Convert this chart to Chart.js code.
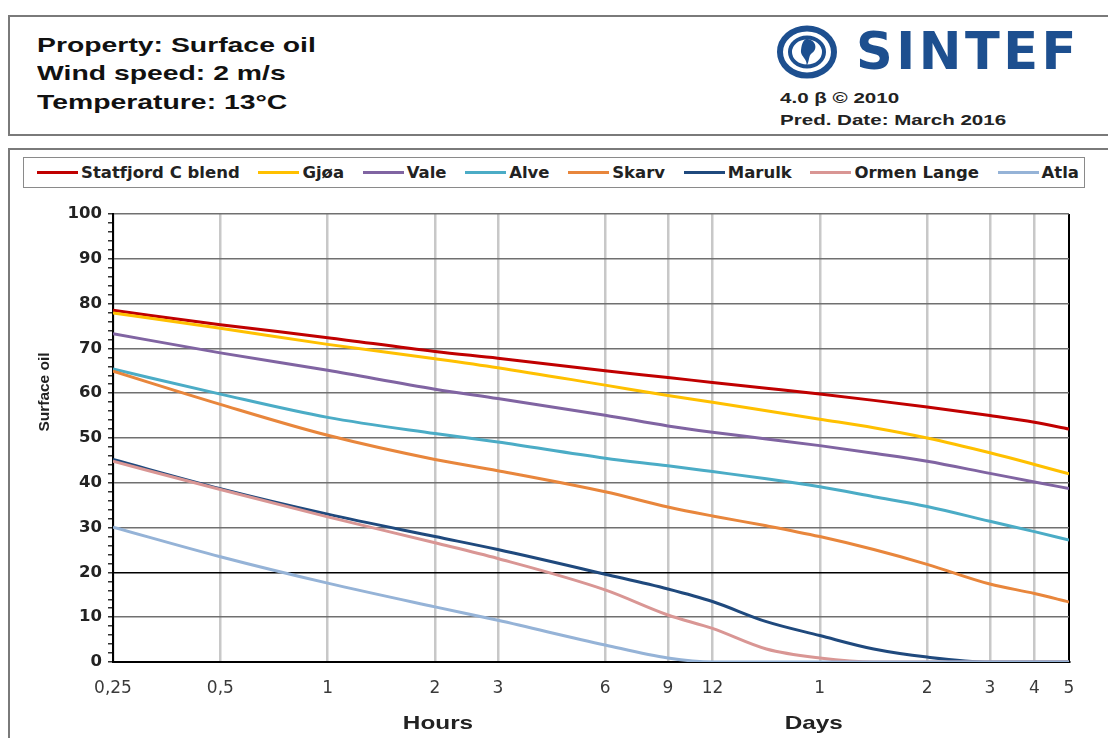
<!DOCTYPE html>
<html>
<head>
<meta charset="utf-8">
<script src="https://cdn.jsdelivr.net/npm/chart.js@4.4.0/dist/chart.umd.min.js"></script>
<style>
    body { margin: 0; background: #fff; font-family: "Liberation Sans", Arial, sans-serif; }
    #page { position: relative; width: 1108px; height: 738px; overflow: hidden; }
    .box { position: absolute; border: 2px solid #7a7a7a; box-sizing: border-box; }
    #head { left: 8px; top: 15px; width: 1120px; height: 121px; }
    #body { left: 8px; top: 148px; width: 1120px; height: 620px; }
    .info { position: absolute; left: 37px; font-weight: bold; font-size: 21px; color: #111;
        transform: scaleX(1.35); transform-origin: left center; white-space: nowrap; }
    .small { position: absolute; left: 780px; font-weight: bold; font-size: 15px; color: #222;
        transform: scaleX(1.37); transform-origin: left center; white-space: nowrap; }
    #logo { position: absolute; left: 776px; top: 25px; }
    #logoText { position: absolute; left: 856px; top: 22px; font-family: "DejaVu Sans"; font-weight: bold;
        font-size: 51px; color: #1d4f8f; letter-spacing: 3.5px; }
    #legend { position: absolute; left: 23px; top: 157px; width: 1062px; height: 31px; border: 1px solid #8a8a8a;
        box-sizing: border-box; display: flex; justify-content: space-between; align-items: center;
        padding: 0 5px 0 13px; }
    .item { display: flex; align-items: center; font-family: "DejaVu Sans"; font-weight: bold; font-size: 16.5px; color: #222; }
    .item i { display: inline-block; width: 41px; height: 3px; margin-right: 3px; }
    #wrap { position: absolute; left: 0; top: 190px; width: 1108px; height: 548px; }
</style>
</head>
<body>
<div id="page">
    <div class="box" id="head"></div>
    <div class="info" style="top:33px">Property: Surface oil</div>
    <div class="info" style="top:61px">Wind speed: 2 m/s</div>
    <div class="info" style="top:90px">Temperature: 13°C</div>
    <svg id="logo" width="64" height="56" viewBox="0 0 64 56">
        <ellipse cx="31" cy="27" rx="27" ry="23.5" fill="none" stroke="#1d4f8f" stroke-width="6"/>
        <ellipse cx="31" cy="27" rx="17" ry="14.5" fill="none" stroke="#1d4f8f" stroke-width="4"/>
        <path d="M30 14 C40 14 42 24 36 28 C32 31 34 36 30 42 C33 34 24 32 25 25 C26 18 27 16 30 14 Z" fill="#1d4f8f"/>
    </svg>
    <div id="logoText">SINTEF</div>
    <div class="small" style="top:89px">4.0 β © 2010</div>
    <div class="small" style="top:111px">Pred. Date: March 2016</div>

    <div class="box" id="body"></div>
    <div id="legend"></div>
    <div id="wrap"><canvas id="chart" width="1108" height="548"></canvas></div>
</div>
<script>
// time in hours (log axis)
const hours = [0.25, 0.5, 1, 2, 3, 6, 9, 12, 17, 24, 34, 48, 72, 96, 120];
const xTicks = [0.25, 0.5, 1, 2, 3, 6, 9, 12, 24, 48, 72, 96, 120];
const xTickLabels = ["0,25", "0,5", "1", "2", "3", "6", "9", "12", "1", "2", "3", "4", "5"];

const oilNames = ["Statfjord C blend", "Gjøa", "Vale", "Alve", "Skarv", "Marulk", "Ormen Lange", "Atla"];
const oilColors = ["#c00000", "#ffc000", "#8064a2", "#4bacc6", "#e8863c", "#1f497d", "#d99694", "#95b3d7"];

// surface oil (%) read at each time in hours[]
const statfjord = [78.5, 75.3, 72.4, 69.3, 67.8, 65.0, 63.5, 62.4, 61.1, 59.8, 58.4, 56.9, 55.0, 53.5, 52.0];
const gjoa      = [77.9, 74.5, 70.9, 67.7, 65.7, 61.8, 59.5, 58.0, 56.1, 54.2, 52.3, 50.0, 46.7, 44.1, 42.0];
const vale      = [73.3, 69.0, 65.1, 60.9, 58.8, 55.1, 52.7, 51.3, 49.8, 48.3, 46.6, 44.8, 42.1, 40.2, 38.7];
const alve      = [65.4, 59.8, 54.6, 51.0, 49.1, 45.5, 43.8, 42.5, 40.9, 39.1, 36.9, 34.7, 31.4, 29.1, 27.2];
const skarv     = [64.9, 57.5, 50.6, 45.2, 42.7, 38.0, 34.6, 32.6, 30.4, 28.0, 25.1, 21.8, 17.4, 15.3, 13.4];
const marulk    = [45.2, 38.7, 33.0, 28.0, 25.1, 19.6, 16.3, 13.5, 9.0, 5.9, 2.9, 1.1, 0, 0, 0];
const ormen     = [44.8, 38.5, 32.4, 26.6, 23.1, 16.1, 10.5, 7.5, 2.9, 0.9, 0, 0, 0, 0, 0];
const atla      = [30.1, 23.5, 17.6, 12.3, 9.3, 3.8, 0.9, 0, 0, 0, 0, 0, 0, 0, 0];

const series = [statfjord, gjoa, vale, alve, skarv, marulk, ormen, atla];

// legend
const legend = document.getElementById("legend");
oilNames.forEach((name, i) => {
    const el = document.createElement("span");
    el.className = "item";
    el.innerHTML = '<i style="background:' + oilColors[i] + '"></i>' + name;
    legend.appendChild(el);
});

const datasets = series.map((vals, i) => ({
    label: oilNames[i],
    data: vals.map((v, k) => ({ x: hours[k], y: v })),
    borderColor: oilColors[i],
    backgroundColor: oilColors[i],
    borderWidth: 3,
    pointRadius: 0,
    cubicInterpolationMode: "monotone",
    fill: false
})).reverse();

// axis titles drawn by hand
const extraText = {
    id: "extraText",
    afterDraw(chart) {
        const ctx = chart.ctx;
        const x = chart.scales.x;
        ctx.save();
        ctx.fillStyle = "#222";
        ctx.textAlign = "center";
        ctx.textBaseline = "middle";
        ctx.font = "bold 19px 'Liberation Sans', Arial";
        [["Hours", x.getPixelForValue(2) + 3], ["Days", x.getPixelForValue(24) - 6]].forEach(t => {
            ctx.save();
            ctx.translate(t[1], 534);
            ctx.scale(1.28, 1);
            ctx.fillText(t[0], 0, 0);
            ctx.restore();
        });
        ctx.translate(45, 202);
        ctx.rotate(-Math.PI / 2);
        ctx.font = "bold 15.5px 'Liberation Sans', Arial";
        ctx.fillText("Surface oil", 0, 0);
        ctx.restore();
    }
};

new Chart(document.getElementById("chart").getContext("2d"), {
    type: "line",
    data: { datasets: datasets },
    options: {
        responsive: false,
        animation: false,
        layout: { padding: { top: 24, right: 39, bottom: 0, left: 0 } },
        plugins: { legend: { display: false }, tooltip: { enabled: false } },
        scales: {
            x: {
                type: "logarithmic",
                min: 0.25,
                max: 120,
                afterBuildTicks: scale => { scale.ticks = xTicks.map(v => ({ value: v })); },
                afterFit: scale => { scale.height = 76; },
                ticks: {
                    autoSkip: false,
                    maxRotation: 0,
                    padding: 16,
                    color: "#3a3a3a",
                    font: { size: 17, family: "'DejaVu Sans'" },
                    callback: (v, i) => xTickLabels[i]
                },
                grid: {
                    drawTicks: false,
                    color: c => c.tick && c.tick.value === 120 ? "#000" : "#c8c8c8",
                    lineWidth: c => c.tick && c.tick.value === 120 ? 2 : 2.5
                },
                border: { color: "#000", width: 2 }
            },
            y: {
                min: 0,
                max: 100,
                afterFit: scale => { scale.width = 113; },
                ticks: {
                    stepSize: 2,
                    maxTicksLimit: 100,
                    autoSkip: false,
                    padding: 6,
                    color: "#222",
                    font: { size: 16.5, weight: "bold", family: "'DejaVu Sans'" },
                    callback: v => v % 10 === 0 ? v : ""
                },
                grid: {
                    tickLength: 5,
                    color: c => {
                        const v = c.tick ? c.tick.value : 0;
                        if (v % 10 !== 0) return "rgba(0,0,0,0)";
                        return v === 20 ? "#000" : "#707070";
                    },
                    tickColor: "#333",
                    lineWidth: 1.5
                },
                border: { color: "#000", width: 2 }
            }
        }
    },
    plugins: [extraText]
});
</script>
</body>
</html>
